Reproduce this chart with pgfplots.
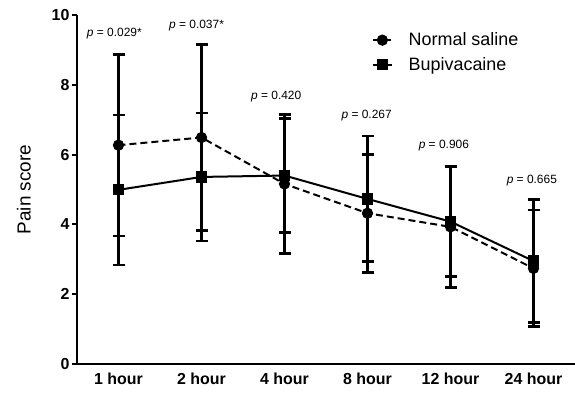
\documentclass[border=0pt]{standalone}
\usepackage{fontspec}
\setmainfont{Liberation Sans}
\usepackage{pgfplots}
\pgfplotsset{compat=1.18}
\usetikzlibrary{calc}
\begin{document}
\begin{tikzpicture}
\begin{axis}[
  scale only axis,
  width=498bp, height=349bp,
  xmin=-0.5, xmax=5.5, ymin=0, ymax=10,
  axis x line=bottom, axis y line=left,
  axis line style={-, line width=2bp},
  xtick={0,1,2,3,4,5},
  xticklabels={1 hour,2 hour,4 hour,8 hour,12 hour,24 hour},
  x tick style={draw=none},
  ytick={0,2,4,6,8,10},
  y tick style={line width=2bp, black},
  tick align=outside,
  major tick length=5bp,
  /pgf/number format/assume math mode=true,
  tick label style={font=\bfseries\fontsize{16}{16}\selectfont},
  yticklabel style={xshift=1bp},
  ylabel={Pain score},
  ylabel style={font=\fontsize{19}{19}\selectfont, yshift=14bp},
  legend style={draw=none, fill=none, at={(rel axis cs:0.592,0.955)}, anchor=north west,
    font=\fontsize{18}{18}\selectfont, row sep=6bp, inner sep=0pt,
    /tikz/every odd column/.append style={column sep=14bp}},
  legend cell align=left,
  legend image code/.code={\draw[mark repeat=2,mark phase=2,#1] plot coordinates {(0cm,0cm) (0.33cm,0cm) (0.66cm,0cm)};},
  clip=false,
]
\addplot[black, line width=2bp, dash pattern=on 7bp off 4bp, mark=*, mark size=4.6bp, mark options={solid},
  error bars/.cd, y dir=both, y explicit,
  error bar style={line width=2.6bp, solid},
  error mark options={line width=2.6bp, mark size=6bp, rotate=90, solid}]
  table[x=x, y=y, y error=e] {
x y e
0 6.27 2.60
1 6.49 2.67
2 5.16 1.99
3 4.32 1.69
4 3.93 1.74
5 2.74 1.67
};
\addlegendentry{Normal saline}
\addplot[black, line width=2bp, mark=square*, mark size=4.6bp,
  error bars/.cd, y dir=both, y explicit,
  error bar style={line width=2.6bp},
  error mark options={line width=2.6bp, mark size=6bp, rotate=90}]
  table[x=x, y=y, y error=e] {
x y e
0 4.99 2.15
1 5.36 1.83
2 5.40 1.64
3 4.73 1.80
4 4.08 1.58
5 2.95 1.76
};
\addlegendentry{Bupivacaine}
\tikzset{pl/.style={font=\fontsize{12}{12}\selectfont}}
\node[pl] at (axis cs:-0.05,9.46) {\textit{p} = 0.029*};
\node[pl] at (axis cs:0.94,9.71) {\textit{p} = 0.037*};
\node[pl] at (axis cs:1.90,7.66) {\textit{p} = 0.420};
\node[pl] at (axis cs:2.99,7.13) {\textit{p} = 0.267};
\node[pl] at (axis cs:3.92,6.25) {\textit{p} = 0.906};
\node[pl] at (axis cs:4.98,5.27) {\textit{p} = 0.665};
\coordinate (ll) at (rel axis cs:0,0);
\coordinate (ur) at (rel axis cs:1,1);
\end{axis}
\pgfresetboundingbox
\path[use as bounding box] ($(ll)+(-77bp,-30bp)$) rectangle ($(ur)+(0bp,15bp)$);
\end{tikzpicture}
\end{document}
